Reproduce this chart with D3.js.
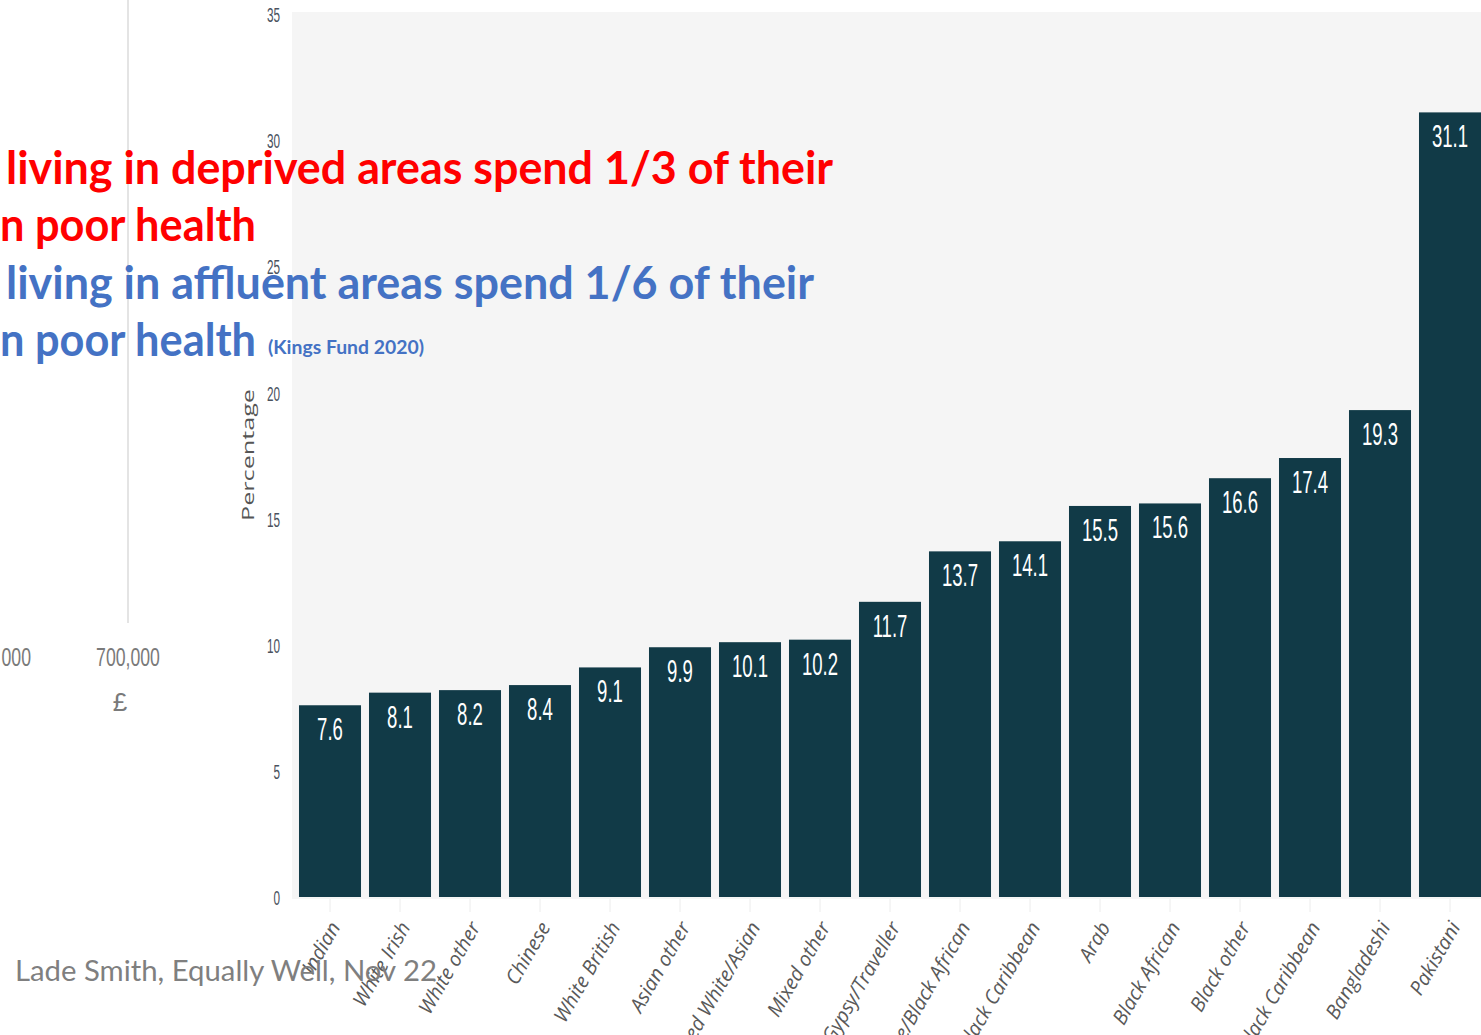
<!DOCTYPE html>
<html>
<head>
<meta charset="utf-8">
<script src="https://cdn.jsdelivr.net/npm/d3@7"></script>
<style>
  html, body { margin: 0; padding: 0; background: #ffffff; }
  svg { display: block; }
</style>
</head>
<body>
<svg id="chart" width="1481" height="1035"></svg>
<script>
// ---------- data ----------
const categories = [
  "Indian", "White Irish", "White other", "Chinese", "White British",
  "Asian other", "Mixed White/Asian", "Mixed other", "Gypsy/Traveller",
  "Mixed White/Black African", "Mixed White/Black Caribbean", "Arab",
  "Black African", "Black other", "Black Caribbean", "Bangladeshi", "Pakistani"
];
const values = [7.6, 8.1, 8.2, 8.4, 9.1, 9.9, 10.1, 10.2, 11.7, 13.7, 14.1, 15.5, 15.6, 16.6, 17.4, 19.3, 31.1];
const yTicks = [0, 5, 10, 15, 20, 25, 30, 35];
const yAxisTitle = "Percentage";

// partial background chart (left, £ axis)
const poundTicks = [700000];
const poundPartialLabel = "000";
const poundAxisTitle = "£";

// overlay text
const redLines = ["living in deprived areas spend 1/3 of their", "n poor health"];
const blueLines = ["living in affluent areas spend 1/6 of their", "n poor health"];
const sourceNote = "(Kings Fund 2020)";
const footer = "Lade Smith, Equally Well, Nov 22";

// ---------- drawing ----------
const svg = d3.select("#chart");
const W = 1481, H = 1035;

// left partial chart: vertical gridline and £ axis label
const px = d3.scaleLinear().domain([700000, 800000]).range([128, 260]);
svg.append("line")
  .attr("x1", px(700000)).attr("x2", px(700000))
  .attr("y1", 0).attr("y2", 623)
  .attr("stroke", "#e4e4e4").attr("stroke-width", 2);
svg.selectAll("text.pound").data(poundTicks).enter().append("text")
  .attr("class", "pound")
  .attr("transform", d => `translate(${px(d)},666) scale(0.68,1)`)
  .attr("text-anchor", "middle")
  .attr("font-family", "Liberation Sans, Arial, sans-serif")
  .attr("font-size", 26).attr("fill", "#7a7a7a")
  .text(d => d3.format(",")(d));
svg.append("text")
  .attr("transform", `translate(31,666) scale(0.68,1)`)
  .attr("text-anchor", "end")
  .attr("font-family", "Liberation Sans, Arial, sans-serif")
  .attr("font-size", 26).attr("fill", "#7a7a7a")
  .text(poundPartialLabel);
svg.append("text")
  .attr("x", 120).attr("y", 711)
  .attr("text-anchor", "middle")
  .attr("font-family", "Liberation Sans, Arial, sans-serif")
  .attr("font-size", 26).attr("fill", "#7a7a7a")
  .text(poundAxisTitle);

// main chart
const x = d3.scaleBand().domain(categories).range([295, 1485]).paddingInner(0.114).paddingOuter(0.057);
const y = d3.scaleLinear().domain([0, 35]).range([897, 14]);

svg.append("rect")
  .attr("x", 292).attr("y", 12)
  .attr("width", W - 292).attr("height", 899 - 12)
  .attr("fill", "#f5f5f5");

// y axis
const yAxis = svg.append("g")
  .attr("transform", "translate(280,0)")
  .call(d3.axisLeft(y).tickValues(yTicks).tickSize(0).tickPadding(0));
yAxis.select(".domain").remove();
yAxis.selectAll("text")
  .attr("font-family", "Liberation Sans, Arial, sans-serif")
  .attr("font-size", 21)
  .attr("fill", "#4a525e")
  .attr("x", null)
  .attr("dy", "0.36em")
  .attr("transform", "scale(0.56,1)");

// y axis title
svg.append("text")
  .attr("transform", "translate(254,455) rotate(-90)")
  .attr("text-anchor", "middle")
  .attr("font-family", "Open Sans, DejaVu Sans, sans-serif")
  .attr("font-size", 16)
  .attr("fill", "#555")
  .attr("textLength", 132)
  .attr("lengthAdjust", "spacingAndGlyphs")
  .text(yAxisTitle);

// x axis
const xAxis = svg.append("g")
  .attr("transform", "translate(0,899)")
  .call(d3.axisBottom(x).tickSize(13).tickFormat(""));
xAxis.select(".domain").remove();
xAxis.selectAll(".tick line").attr("stroke", "#ececec").attr("stroke-width", 1);

svg.append("g").selectAll("text").data(categories).enter().append("text")
  .attr("transform", d => `translate(${x(d) + x.bandwidth() / 2 + 11},927) rotate(-60)`)
  .attr("text-anchor", "end")
  .attr("font-family", "Open Sans, DejaVu Sans, sans-serif")
  .attr("font-style", "italic")
  .attr("font-size", 20)
  .attr("fill", "#595959")
  .text(d => d);

// bars
const data = categories.map((c, i) => ({ c, v: values[i] }));
svg.append("g").selectAll("rect").data(data).enter().append("rect")
  .attr("x", d => x(d.c))
  .attr("y", d => y(d.v))
  .attr("width", x.bandwidth())
  .attr("height", d => y(0) - y(d.v))
  .attr("fill", "#113a47");

svg.append("g").selectAll("text").data(data).enter().append("text")
  .attr("transform", d => `translate(${x(d.c) + x.bandwidth() / 2},${y(d.v) + 35}) scale(0.58,1)`)
  .attr("text-anchor", "middle")
  .attr("font-family", "Liberation Sans, Arial, sans-serif")
  .attr("font-size", 32)
  .attr("fill", "#ffffff")
  .text(d => d.v.toFixed(1));

// overlay texts
const overlay = svg.append("g")
  .attr("font-family", "Lato, Open Sans, sans-serif")
  .attr("font-weight", "bold");
const lineSpec = [
  { t: redLines[0], x: 6, y: 184, w: 827, c: "#ff0000" },
  { t: redLines[1], x: 0, y: 241, w: 256, c: "#ff0000" },
  { t: blueLines[0], x: 6, y: 299, w: 808, c: "#4472c4" },
  { t: blueLines[1], x: 0, y: 356, w: 256, c: "#4472c4" }
];
overlay.selectAll("text.big").data(lineSpec).enter().append("text")
  .attr("class", "big")
  .attr("x", d => d.x).attr("y", d => d.y)
  .attr("font-size", 46)
  .attr("fill", d => d.c)
  .attr("textLength", d => d.w)
  .attr("lengthAdjust", "spacingAndGlyphs")
  .text(d => d.t);
overlay.append("text")
  .attr("x", 268).attr("y", 354)
  .attr("font-size", 18)
  .attr("fill", "#4472c4")
  .attr("textLength", 156)
  .attr("lengthAdjust", "spacingAndGlyphs")
  .text(sourceNote);

svg.append("text")
  .attr("x", 15).attr("y", 981)
  .attr("font-family", "Lato, Open Sans, sans-serif")
  .attr("font-size", 29)
  .attr("fill", "#7f7f7f")
  .attr("textLength", 422)
  .attr("lengthAdjust", "spacingAndGlyphs")
  .text(footer);
</script>
</body>
</html>
